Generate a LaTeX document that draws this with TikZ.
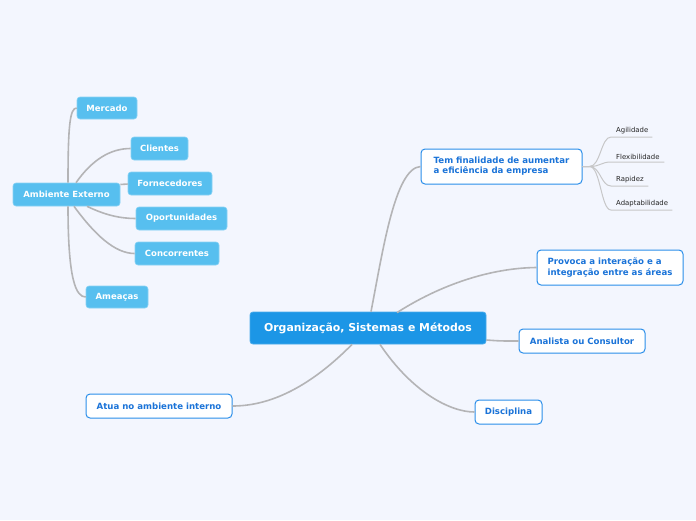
\documentclass[tikz,border=0pt]{standalone}
\usepackage{fontspec}
\setmainfont{DejaVu Sans}
\usetikzlibrary{calc}
\definecolor{bg}{HTML}{F3F6FE}
\definecolor{mainblue}{HTML}{1C96E6}
\definecolor{lightblue}{HTML}{57BFEF}
\definecolor{txtblue}{HTML}{1A73D8}
\definecolor{brdblue}{HTML}{2A8EEA}
\definecolor{conngray}{HTML}{B4B4B6}
\tikzset{
  every node/.style={font=\bfseries},
  central/.style={draw=mainblue!80!white, fill=mainblue, text=white, rounded corners=3pt, line width=0.8pt,
    font=\fontsize{10.9}{13}\selectfont\bfseries, inner sep=0pt},
  topic/.style={draw=brdblue, fill=white, text=txtblue, rounded corners=4pt, line width=1pt,
    font=\fontsize{8.6}{10.2}\selectfont\bfseries, inner sep=0pt, align=left},
  ext/.style={draw=lightblue!70!white, fill=lightblue, text=white, rounded corners=3pt, line width=0.6pt,
    font=\fontsize{8.5}{10}\selectfont\bfseries, inner sep=0pt},
  leaf/.style={font=\fontsize{6.9}{8}\selectfont, text=black!85, inner xsep=5pt, inner ysep=2.5pt, align=left, anchor=south west},
  conn/.style={draw=conngray, line width=1.6pt},
  thin/.style={draw=conngray!75!white, line width=1pt},
}
\begin{document}
\begin{tikzpicture}[x=1pt,y=-1pt]
\fill[bg] (0,0) rectangle (696,520);
\useasboundingbox (0,0) rectangle (696,520);

% central
\node[central, minimum width=236pt, minimum height=32pt] (c) at (368,328) {Organização, Sistemas e Métodos};

% main topics
\node[topic, minimum width=161pt, minimum height=35pt] (tem) at (501.5,166.5) {Tem finalidade de aumentar\\a eficiência da empresa};
\node[topic, minimum width=146pt, minimum height=35pt] (prov) at (610,267.5) {Provoca a interação e a\\integração entre as áreas};
\node[topic, minimum width=126pt, minimum height=24pt] (an) at (582,341) {Analista ou Consultor};
\node[topic, minimum width=67pt, minimum height=24pt] (dis) at (508.5,412) {Disciplina};
\node[topic, minimum width=146pt, minimum height=24pt] (atua) at (159,406) {Atua no ambiente interno};

% leaves
\node[leaf, text width=31pt] (l1) at (611,137) {Agilidade};
\node[leaf, text width=43pt] (l2) at (611,162) {Flexibilidade};
\node[leaf, text width=27pt] (l3) at (611,186) {Rapidez};
\node[leaf, text width=51pt] (l4) at (611,210) {Adaptabilidade};

% ambiente externo
\node[ext, minimum width=107pt, minimum height=23pt] (amb) at (66.5,194.5) {Ambiente Externo};
\node[ext, minimum width=60pt, minimum height=22pt] (merc) at (107,108) {Mercado};
\node[ext, minimum width=57pt, minimum height=23pt] (cli) at (159.5,148.5) {Clientes};
\node[ext, minimum width=84pt, minimum height=23pt] (forn) at (170,183.5) {Fornecedores};
\node[ext, minimum width=91pt, minimum height=23pt] (opo) at (181.5,218.5) {Oportunidades};
\node[ext, minimum width=84pt, minimum height=23pt] (conc) at (177,253.5) {Concorrentes};
\node[ext, minimum width=62pt, minimum height=22pt] (ame) at (117,297) {Ameaças};

% central connectors
\draw[conn] ($(c.north)+(3,0)$) .. controls (383,250) and (395,168) .. (tem.west);
\draw[conn] ($(c.north)+(29,1)$) .. controls (440,285) and (490,268) .. (prov.west);
\draw[conn] ($(c.east)+(0,12)$) .. controls (500,341) .. (an.west);
\draw[conn] ($(c.south)+(12,0)$) .. controls (412,392) and (450,412) .. (dis.west);
\draw[conn] ($(c.south)+(-16,0)$) .. controls (305,392) and (265,406) .. (atua.east);

% leaf connectors
\foreach \l in {l1,l2,l3,l4}{
  \draw[thin] (tem.east) -- ++(7,0) .. controls ($(tem.east)+(18,0)$) and ($(\l.south west)+(-10,0)$) .. (\l.south west) -- (\l.south east);
}

% ambiente connectors
\draw[conn] ($(amb.north)+(1.5,0)$) .. controls (68,125) and (70,108) .. (merc.west);
\draw[conn] ($(amb.north)+(9.5,0)$) .. controls (92,160) and (110,148.5) .. (cli.west);
\draw[conn] ($(amb.east)+(0,-10)$) -- ($(forn.west)+(0,0.5)$);
\draw[conn] ($(amb.south)+(20.5,0)$) .. controls (105,215) and (120,218.5) .. (opo.west);
\draw[conn] ($(amb.south)+(7.5,0)$) .. controls (95,235) and (115,253.5) .. (conc.west);
\draw[conn] ($(amb.south)+(1.5,0)$) .. controls (68,280) and (76,297) .. (ame.west);
\end{tikzpicture}
\end{document}
